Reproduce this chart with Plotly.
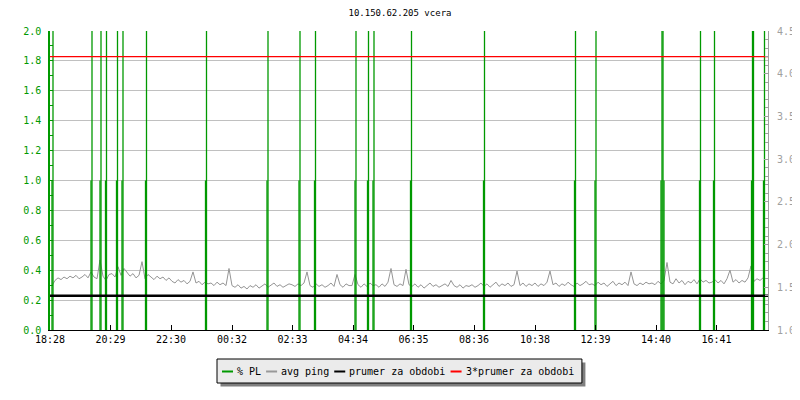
import pandas as pd
import plotly.graph_objects as go

# ---------------- data ----------------
title_text = "10.150.62.205 vcera"
day1 = "2024-01-01"
day2 = "2024-01-02"
range_start = "18:28"
range_minutes = 1436

tick_labels = ["18:28", "20:29", "22:30", "00:32", "02:33", "04:34",
               "06:35", "08:36", "10:38", "12:39", "14:40", "16:41"]

# avg ping [ms], sampled every 6 minutes from 18:32
ping_start = "18:32"
ping_step_min = 6
avg_ping = [
    1.52, 1.58, 1.61, 1.59, 1.62, 1.60, 1.63, 1.61, 1.64, 1.60, 1.62, 1.65, 1.61, 1.68, 1.62, 1.60, 1.82, 1.63, 1.58, 1.65,
    1.66, 1.62, 1.74, 1.64, 1.72, 1.67, 1.63, 1.66, 1.61, 1.64, 1.80, 1.60, 1.65, 1.62, 1.59, 1.63, 1.60, 1.62, 1.58, 1.61,
    1.57, 1.55, 1.59, 1.56, 1.58, 1.54, 1.57, 1.68, 1.55, 1.57, 1.53, 1.56, 1.54, 1.55, 1.52, 1.56, 1.53, 1.55, 1.52, 1.72,
    1.52, 1.50, 1.53, 1.49, 1.51, 1.48, 1.52, 1.50, 1.53, 1.49, 1.51, 1.54, 1.50, 1.52, 1.55, 1.51, 1.53, 1.50, 1.52, 1.54,
    1.53, 1.51, 1.54, 1.52, 1.55, 1.68, 1.52, 1.50, 1.54, 1.51, 1.53, 1.50, 1.52, 1.55, 1.51, 1.65, 1.53, 1.50, 1.54, 1.52,
    1.52, 1.65, 1.53, 1.50, 1.54, 1.51, 1.55, 1.52, 1.53, 1.50, 1.54, 1.51, 1.56, 1.72, 1.53, 1.51, 1.54, 1.52, 1.71, 1.53,
    1.51, 1.54, 1.50, 1.53, 1.49, 1.52, 1.55, 1.51, 1.53, 1.50, 1.52, 1.54, 1.51, 1.58, 1.52, 1.50, 1.53, 1.49, 1.52, 1.51,
    1.53, 1.50, 1.52, 1.55, 1.51, 1.54, 1.50, 1.53, 1.56, 1.51, 1.54, 1.52, 1.55, 1.51, 1.53, 1.69, 1.52, 1.55, 1.51, 1.54,
    1.52, 1.55, 1.51, 1.54, 1.52, 1.56, 1.69, 1.53, 1.55, 1.51, 1.54, 1.52, 1.56, 1.53, 1.51, 1.55, 1.52, 1.54, 1.57, 1.53,
    1.54, 1.52, 1.56, 1.53, 1.55, 1.51, 1.54, 1.57, 1.52, 1.55, 1.53, 1.56, 1.52, 1.68, 1.54, 1.52, 1.55, 1.53, 1.56, 1.54,
    1.55, 1.53, 1.57, 1.54, 1.58, 1.79, 1.56, 1.54, 1.60, 1.55, 1.58, 1.53, 1.57, 1.55, 1.59, 1.54, 1.60, 1.56, 1.58, 1.55,
    1.56, 1.59, 1.55, 1.58, 1.54, 1.60, 1.70, 1.56, 1.59, 1.55, 1.58, 1.56, 1.61, 1.75, 1.57, 1.60, 1.58, 1.61,
]

ping_period_mean = 1.4          # "prumer za obdobi" [ms]
mean_factor = 3                 # "3*prumer za obdobi"

# % packet loss samples (values above 2 are clipped by the axis)
pl_times = ["18:32", "18:34", "19:50", "19:52", "20:08", "20:10", "20:19", "20:21",
            "20:41", "20:43", "20:52", "20:54", "21:39", "21:41", "23:39", "23:41",
            "01:42", "01:44", "02:46", "02:48", "03:17", "03:19", "04:38", "04:40",
            "05:03", "05:05", "05:14", "05:16", "06:29", "06:31", "08:55", "08:57",
            "11:57", "11:59", "12:38", "12:40", "14:50", "14:52", "14:54", "14:56",
            "16:07", "16:09", "16:35", "16:37", "17:51", "17:53", "17:55", "18:15", "18:17"]
pl_values = [1.0, 3.3, 1.0, 3.3, 1.0, 3.3, 1.0, 3.3,
             1.0, 3.3, 1.0, 3.3, 1.0, 3.3, 1.0, 3.3,
             1.0, 3.3, 1.0, 3.3, 1.0, 3.3, 1.0, 3.3,
             1.0, 3.3, 1.0, 3.3, 1.0, 3.3, 1.0, 3.3,
             1.0, 3.3, 1.0, 3.3, 1.0, 3.3, 3.3, 1.0,
             1.0, 3.3, 1.0, 3.3, 1.0, 3.3, 3.3, 1.0, 3.3]

series_names = ["% PL", "avg ping", "prumer za obdobi", "3*prumer za obdobi"]
series_colors = ["#009900", "#999999", "#000000", "#ff0000"]

# ---------------- helpers ----------------
FONT = "DejaVu Sans Mono"
GREEN, GRAY, BLACK, RED = series_colors
W, H = 800, 400
OFF = 8  # page margin of the html body; the figure starts at (8, 8) in the window
PLOT_L, PLOT_R, PLOT_T, PLOT_B = 50, 768, 31, 330   # plot area in window pixels
ML = PLOT_L - OFF
MR = W - (PLOT_R - OFF)
MT = PLOT_T - OFF
MB = H - (PLOT_B - OFF)
PW, PH = W - ML - MR, H - MT - MB


def to_dt(hm):
    d = day1 if hm >= range_start else day2
    return pd.Timestamp(f"{d} {hm}")


def px(x):
    return (x - OFF - ML) / PW


def py(y):
    return (H - MB - (y - OFF)) / PH


x_start = to_dt(range_start)
x_end = x_start + pd.Timedelta(minutes=range_minutes)
tick_vals = [to_dt(t) for t in tick_labels]
ping_x = pd.date_range(to_dt(ping_start), periods=len(avg_ping), freq=f"{ping_step_min}min")

pl_x, pl_y = [], []
for t, v in zip(pl_times, pl_values):
    d = to_dt(t)
    pl_x += [d, d, None]
    pl_y += [0, v, None]

fig = go.Figure()
fig.add_trace(go.Scatter(x=ping_x, y=avg_ping, mode="lines", name=series_names[1],
                         line=dict(color="#959595", width=1), yaxis="y", showlegend=False))
fig.add_trace(go.Scatter(x=pl_x, y=pl_y, mode="lines", name=series_names[0],
                         line=dict(color=GREEN, width=1.3), yaxis="y2", showlegend=False))
fig.add_trace(go.Scatter(x=[x_start, x_end], y=[ping_period_mean] * 2, mode="lines", name=series_names[2],
                         line=dict(color=BLACK, width=2.5), yaxis="y3", showlegend=False))
fig.add_trace(go.Scatter(x=[x_start, x_end], y=[mean_factor * ping_period_mean] * 2, mode="lines",
                         name=series_names[3], line=dict(color=RED, width=1.3), yaxis="y3", showlegend=False))

tickfont = dict(family=FONT, size=10)

fig.update_layout(
    width=W, height=H,
    margin=dict(l=ML, r=MR, t=MT, b=MB, autoexpand=False),
    paper_bgcolor="white", plot_bgcolor="white",
    font=dict(family=FONT, size=10, color="black"),
    title=dict(text=title_text, x=(400 - OFF) / W, xref="container", y=1 - (13 - OFF) / H, yref="container",
               xanchor="center", yanchor="middle", automargin=False,
               font=dict(family=FONT, size=9, color="black")),
    xaxis=dict(type="date", range=[x_start, x_end], tickvals=tick_vals, ticktext=tick_labels,
               automargin=False,
               showgrid=False, zeroline=False, showline=True, linecolor="black", linewidth=1,
               ticks="inside", ticklen=5, tickcolor="black", tickfont=dict(tickfont, color="black")),
    yaxis=dict(range=[1, 4.5], side="right", dtick=0.5, tickformat=".1f", showgrid=False, zeroline=False,
               automargin=False,
               showline=True, linecolor="#a0a0a0", linewidth=1, ticks="inside", ticklen=4,
               tickcolor="#a0a0a0", tickfont=dict(tickfont, color="#a0a0a0"), ticklabelstandoff=6,
               minor=dict(dtick=0.1, ticks="inside", ticklen=3, tickcolor="#a0a0a0", showgrid=False)),
    yaxis2=dict(range=[0, 2], overlaying="y", side="left", dtick=0.2, tickformat=".1f",
                automargin=False,
                showgrid=True, gridcolor="#c0c0c0", gridwidth=1, zeroline=False,
                showline=True, linecolor=GREEN, linewidth=1.5, ticks="inside", ticklen=3,
                tickcolor=GREEN, tickfont=dict(tickfont, color=GREEN), ticklabelstandoff=5,
                minor=dict(dtick=0.1, ticks="inside", ticklen=3, tickcolor=GREEN, showgrid=False)),
    yaxis3=dict(range=[1, 4.5], overlaying="y", visible=False, automargin=False),
)

# ---------------- custom legend ----------------
leg_left, leg_top, leg_bottom = 217, 359, 383
leg_mid = (leg_top + leg_bottom) / 2
char_w = 6.02
shapes = []
annotations = []
cursor = leg_left + 5
items = []
for name, color in zip(series_names, series_colors):
    items.append((cursor, name, color))
    cursor += 14 + len(name) * char_w + 6
leg_right = cursor + 3

shapes.append(dict(type="rect", xref="paper", yref="paper",
                   x0=px(leg_left + 3.5), x1=px(leg_right + 3.5), y0=py(leg_bottom + 3.5), y1=py(leg_top + 3.5),
                   fillcolor="#7f7f7f", line=dict(width=0), layer="above"))
shapes.append(dict(type="rect", xref="paper", yref="paper",
                   x0=px(leg_left), x1=px(leg_right), y0=py(leg_bottom), y1=py(leg_top),
                   fillcolor="#ebebeb", line=dict(color="black", width=1), layer="above"))
for x0, name, color in items:
    shapes.append(dict(type="line", xref="paper", yref="paper",
                       x0=px(x0), x1=px(x0 + 11), y0=py(leg_mid + 0.5), y1=py(leg_mid + 0.5),
                       line=dict(color=color, width=2), layer="above"))
    annotations.append(dict(text=name, xref="paper", yref="paper", x=px(x0 + 13), y=py(leg_mid),
                            xanchor="left", yanchor="middle", showarrow=False,
                            font=dict(family=FONT, size=10, color="black")))

fig.update_layout(shapes=shapes, annotations=annotations)

fig.write_html("out.html")
